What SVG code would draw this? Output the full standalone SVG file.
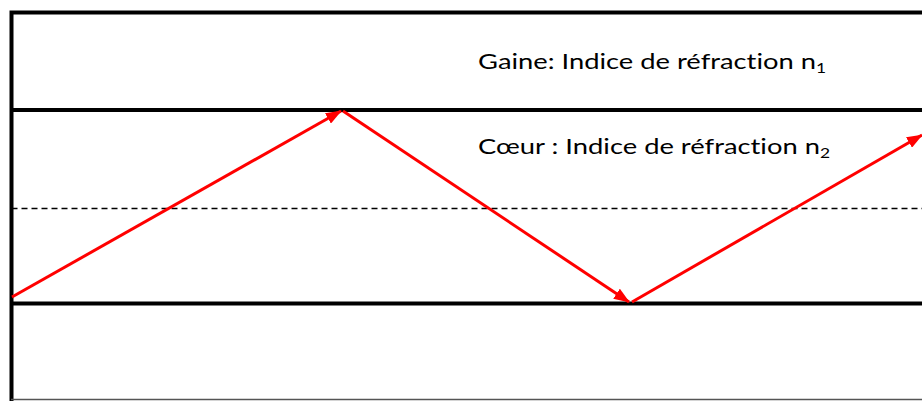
<svg xmlns="http://www.w3.org/2000/svg" width="922" height="401" viewBox="0 0 922 401">
<style>
.b{stroke:#000;stroke-width:4;fill:none}
.d{stroke:#000;stroke-width:1.5;stroke-dasharray:6 4;fill:none}
.r{stroke:#f00;stroke-width:3;fill:none}
.t{font-family:Lato,"Open Sans","Liberation Sans",sans-serif;font-size:22px;fill:#000;font-variant-ligatures:none}
.s{font-size:14px}
</style>
<defs>
<marker id="a" viewBox="0 0 16 12" refX="15" refY="6" markerWidth="16" markerHeight="12" markerUnits="userSpaceOnUse" orient="auto">
<path d="M0,0 L16,6 L0,12 z" fill="#f00"/>
</marker>
</defs>
<rect width="922" height="401" fill="#fff"/>
<g id="fibre">
<path class="b" d="M11.5,401 V12.5 H922"/>
<path class="b" d="M11.5,110 H922"/>
<path class="b" d="M11.5,303.5 H922"/>
<path class="d" d="M11.5,208.5 H922"/>
<line x1="11" y1="399.5" x2="922" y2="399.5" stroke="#555" stroke-width="1.5"/>
</g>
<g id="labels">
<text id="gaine" class="t" x="478" y="69" textLength="348" lengthAdjust="spacingAndGlyphs">Gaine: Indice de réfraction n<tspan class="s" dy="4">1</tspan></text>
<text id="coeur" class="t" x="478" y="154" textLength="352" lengthAdjust="spacingAndGlyphs">Cœur : Indice de réfraction n<tspan class="s" dy="4">2</tspan></text>
</g>
<g id="connectors">
<line class="r" x1="12" y1="297" x2="341" y2="111" marker-end="url(#a)"/>
<line class="r" x1="343" y1="111" x2="629" y2="302" marker-end="url(#a)"/>
<line class="r" x1="632" y1="302" x2="922" y2="135" marker-end="url(#a)"/>
</g>
</svg>
